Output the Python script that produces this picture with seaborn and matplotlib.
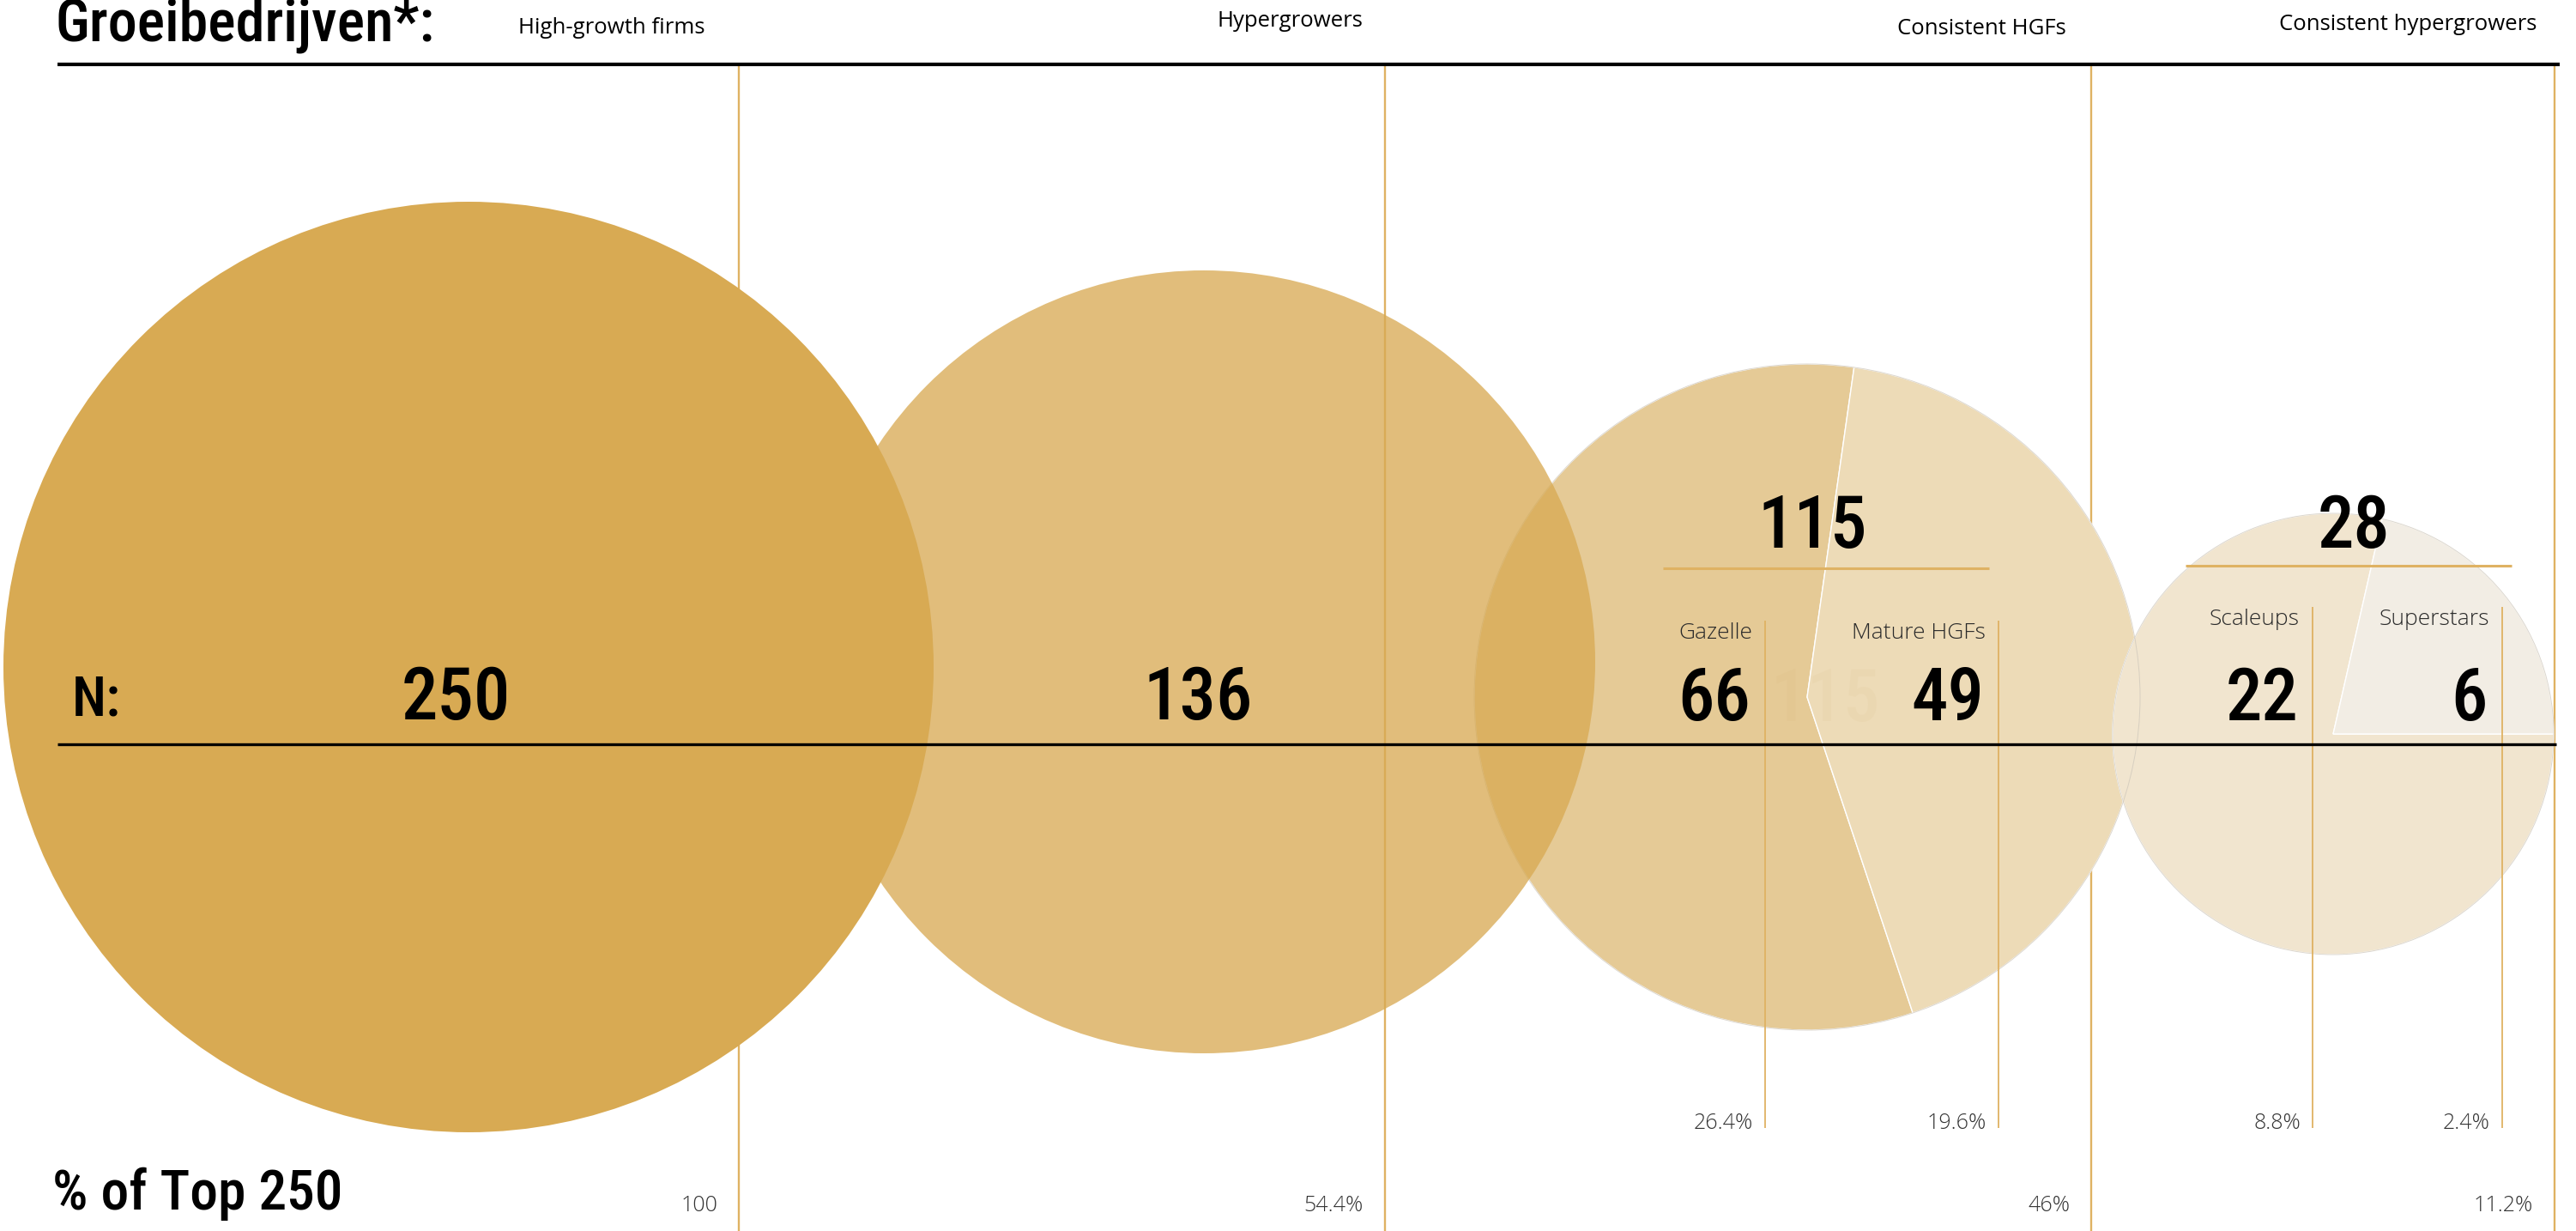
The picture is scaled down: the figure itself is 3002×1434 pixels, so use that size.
import matplotlib
matplotlib.use("Agg")
import matplotlib.pyplot as plt
import matplotlib.font_manager as fm
import matplotlib.patheffects as pe
from matplotlib.patches import Circle
import seaborn as sns

# ---------------- data ----------------
TOTAL = 250
groups = ["High-growth firms", "Hypergrowers", "Consistent HGFs", "Consistent hypergrowers"]
group_n = [250, 136, 115, 28]
sub_labels = ["Gazelle", "Mature HGFs", "Scaleups", "Superstars"]
sub_n = [66, 49, 22, 6]
title_text = "Groeibedrijven*:"
n_label = "N:"
pct_label = "% of Top 250"


def pct(v):
    p = 100 * v / TOTAL
    if abs(p - 100) < 1e-9:
        return "100"
    return (f"{p:.1f}".rstrip("0").rstrip(".")) + "%"


# ---------------- style ----------------
sns.set_theme(style="white")
avail = {f.name for f in fm.fontManager.ttflist}


def pick(cands, default):
    return next((c for c in cands if c in avail), default)


COND = pick(["Liberation Sans Narrow", "Roboto Condensed", "Nimbus Sans Narrow", "Arial Narrow"], "DejaVu Sans")
COND_STRETCH = "condensed" if COND == "DejaVu Sans" else "normal"
cond_weights = {f.weight for f in fm.fontManager.ttflist if f.name == COND}
if 500 in cond_weights or "medium" in cond_weights:
    COND_WEIGHT, STROKE = 500, []
elif 600 in cond_weights or "semibold" in cond_weights:
    COND_WEIGHT, STROKE = 600, []
else:
    COND_WEIGHT, STROKE = 400, [pe.withStroke(linewidth=1.6, foreground="black")]
BODY = pick(["Open Sans", "Noto Sans", "Lato"], "DejaVu Sans")
plt.rcParams["font.family"] = [BODY, "DejaVu Sans"]

GOLD = "#D8AA53"
LINE_GOLD = "#DFB263"
PIE_COLORS = [["#E5CA96", "#EDDBB7"], ["#F1E5CF", "#F2EDE4"]]

W, H = 3002, 1434
fig = plt.figure(figsize=(W / 100, H / 100), dpi=100)
ax = fig.add_axes([0, 0, 1, 1])


def Y(y):
    return H - y


# ---------------- layout (pixel positions) ----------------
COL_X = [861, 1614, 2437, 2977]
CIRC_X, CIRC_Y, CIRC_R = [546, 1403], [777, 771], [542, 456]
PIE_X, PIE_Y, PIE_R = [2106, 2719], [812, 855], [388, 257]
PIE_START = [-71.5, 0.0]
SUB_X = [2057, 2329, 2695, 2916]
SUB_TOP = [723, 723, 707, 707]
HEAD_X = [713, 1503, 2309, 2806]
HEAD_Y = [39, 31, 40, 35]

# column separator lines
for x in COL_X:
    ax.plot([x, x], [Y(75), Y(H + 5)], color=LINE_GOLD, lw=1.7, zorder=1, solid_capstyle="butt")

# pies for the split groups
for i in range(2):
    vals = sub_n[2 * i:2 * i + 2]
    ax.pie(vals, center=(PIE_X[i], Y(PIE_Y[i])), radius=PIE_R[i], startangle=PIE_START[i],
           counterclock=False, colors=PIE_COLORS[i], frame=True,
           wedgeprops=dict(edgecolor="white", linewidth=1.0, zorder=2))
    ax.add_patch(Circle((PIE_X[i], Y(PIE_Y[i])), PIE_R[i], fill=False, edgecolor="#cdc6ba",
                        lw=0.7, alpha=0.7, zorder=2.1))

# big circles
ax.add_patch(Circle((CIRC_X[1], Y(CIRC_Y[1])), CIRC_R[1], facecolor=GOLD, edgecolor="none", alpha=0.77, zorder=3))
ax.add_patch(Circle((CIRC_X[0], Y(CIRC_Y[0])), CIRC_R[0], facecolor=GOLD, edgecolor="none", alpha=1.0, zorder=4))

# sub-category lines
for x, yt in zip(SUB_X, SUB_TOP):
    ax.plot([x, x], [Y(yt), Y(1314)], color=LINE_GOLD, lw=1.3, zorder=5, solid_capstyle="butt")

# black rules
ax.plot([67, 2983], [Y(75), Y(75)], color="black", lw=3.0, zorder=6, solid_capstyle="butt")
ax.plot([67, 2979], [Y(867), Y(867)], color="black", lw=2.4, zorder=6, solid_capstyle="butt")

# gold short rules under the group totals
ax.plot([1938, 2318], [Y(662), Y(662)], color=LINE_GOLD, lw=2.2, zorder=6, solid_capstyle="butt")
ax.plot([2547, 2927], [Y(659), Y(659)], color=LINE_GOLD, lw=2.2, zorder=6, solid_capstyle="butt")

big = dict(family=[COND, "DejaVu Sans"], fontstretch=COND_STRETCH, fontweight=COND_WEIGHT,
           color="black", zorder=7, path_effects=STROKE)

# titles
ax.text(64, Y(48), title_text, fontsize=49, ha="left", va="baseline", **big)
ax.text(84, Y(833), n_label, fontsize=47, ha="left", va="baseline", **big)
ax.text(61, Y(1409), pct_label, fontsize=47, ha="left", va="baseline", **big)

# headers
for x, y, g in zip(HEAD_X, HEAD_Y, groups):
    ax.text(x, Y(y), g, fontsize=18.5, ha="center", va="baseline", color="black", zorder=7)

# group totals
ax.text(531, Y(838), str(group_n[0]), fontsize=61, ha="center", va="baseline", **big)
ax.text(1396, Y(838), str(group_n[1]), fontsize=61, ha="center", va="baseline", **big)
ax.text(2112, Y(638), str(group_n[2]), fontsize=61, ha="center", va="baseline", **big)
ax.text(2743, Y(638), str(group_n[3]), fontsize=61, ha="center", va="baseline", **big)
# faint ghost total inside the pie
ax.text(2127, Y(840), str(group_n[2]), fontsize=61, ha="center", va="baseline",
        family=[COND, "DejaVu Sans"], fontstretch=COND_STRETCH, fontweight=COND_WEIGHT,
        color="#c9a45c", alpha=0.06, zorder=2.5)

# group percentages
for x, v in zip(COL_X, group_n):
    ax.text(x - 25, Y(1411), pct(v), fontsize=18, ha="right", va="baseline",
            color="#333333", fontweight="light", zorder=7)

# sub-categories
for x, yt, lab, v in zip(SUB_X, SUB_TOP, sub_labels, sub_n):
    ax.text(x - 15, Y(yt + 21), lab, fontsize=19, ha="right", va="baseline",
            color="#2a2a2a", fontweight="light", zorder=7)
    ax.text(x - 17, Y(839), str(v), fontsize=61, ha="right", va="baseline", **big)
    ax.text(x - 14, Y(1315), pct(v), fontsize=18, ha="right", va="baseline",
            color="#333333", fontweight="light", zorder=7)

ax.set_xlim(0, W)
ax.set_ylim(0, H)
ax.set_aspect("equal")
ax.axis("off")
fig.savefig("out.png", dpi=100, facecolor="white")
